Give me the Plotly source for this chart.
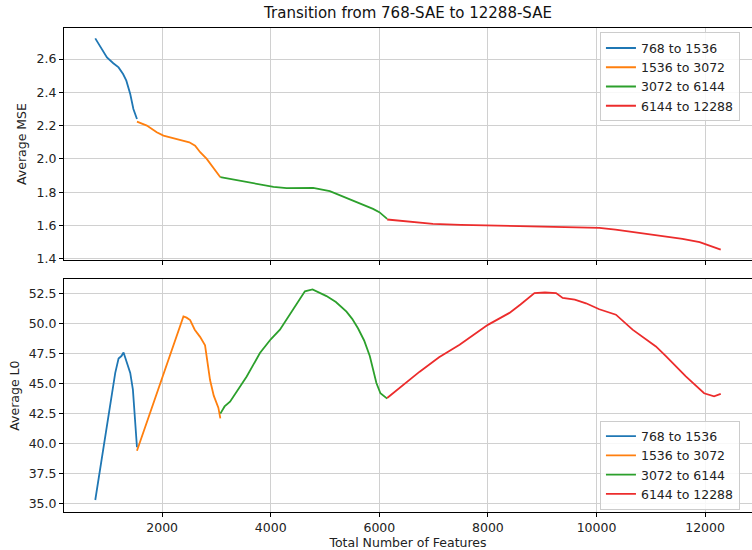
import plotly.graph_objects as go

# ---- data ----
labels = ["768 to 1536", "1536 to 3072", "3072 to 6144", "6144 to 12288"]
colors = ["#1f77b4", "#ff7f0e", "#2ca02c", "#ec2c2c"]

mse_x_blue = [768, 850, 983, 1100, 1197, 1280, 1340, 1412, 1470, 1536]
mse_y_blue = [2.724, 2.68, 2.61, 2.575, 2.55, 2.51, 2.47, 2.39, 2.30, 2.24]
mse_x_orange = [1536, 1718, 1900, 2024, 2200, 2392, 2500, 2607, 2700, 2821, 2950, 3072]
mse_y_orange = [2.224, 2.20, 2.16, 2.14, 2.125, 2.11, 2.10, 2.08, 2.04, 2.00, 1.94, 1.89]
mse_x_green = [3072, 3311, 3550, 3801, 4050, 4292, 4550, 4781, 5088, 5250, 5456, 5650, 5884, 6000, 6144]
mse_y_green = [1.89, 1.876, 1.86, 1.844, 1.832, 1.824, 1.823, 1.826, 1.806, 1.785, 1.76, 1.73, 1.70, 1.68, 1.64]
mse_x_red = [6144, 6375, 6559, 6987, 7500, 7999, 8500, 9009, 9500, 10051, 10350, 10664, 11100, 11583, 11900, 12288]
mse_y_red = [1.636, 1.63, 1.624, 1.61, 1.604, 1.60, 1.596, 1.596, 1.592, 1.586, 1.575, 1.56, 1.54, 1.52, 1.50, 1.455]

l0_x_blue = [768, 891, 1000, 1136, 1197, 1250, 1289, 1333, 1412, 1461, 1536]
l0_y_blue = [35.3, 38.9, 42.0, 45.9, 47.1, 47.3, 47.6, 47.0, 45.9, 44.5, 39.7]
l0_x_orange = [1536, 1779, 1963, 2116, 2250, 2392, 2450, 2515, 2600, 2698, 2790, 2882, 2950, 3035, 3072]
l0_y_orange = [39.4, 42.55, 45.05, 47.0, 48.7, 50.6, 50.5, 50.3, 49.5, 48.9, 48.2, 45.3, 44.0, 43.0, 42.1]
l0_x_green = [3072, 3150, 3250, 3400, 3557, 3801, 4000, 4169, 4300, 4476, 4629, 4770, 4900, 5027, 5200,
              5395, 5500, 5609, 5720, 5824, 5946, 6020, 6144]
l0_y_green = [42.5, 43.1, 43.5, 44.5, 45.6, 47.55, 48.7, 49.5, 50.4, 51.7, 52.7, 52.85, 52.6, 52.3, 51.8,
              51.0, 50.4, 49.6, 48.6, 47.3, 45.05, 44.2, 43.75]
l0_x_red = [6144, 6375, 6559, 6743, 7100, 7478, 7999, 8397, 8600, 8857, 9050, 9255, 9377, 9600, 9807,
            10051, 10358, 10664, 11094, 11278, 11645, 11982, 12165, 12288]
l0_y_red = [43.8, 44.65, 45.3, 46.0, 47.2, 48.25, 49.9, 50.9, 51.6, 52.55, 52.6, 52.55, 52.15, 52.0, 51.7,
            51.2, 50.75, 49.5, 48.1, 47.3, 45.6, 44.2, 43.95, 44.15]

x_ticks = [2000, 4000, 6000, 8000, 10000, 12000]
x_tick_labels = ["2000", "4000", "6000", "8000", "10000", "12000"]
mse_ticks = [1.4, 1.6, 1.8, 2.0, 2.2, 2.4, 2.6]
l0_ticks = [35.0, 37.5, 40.0, 42.5, 45.0, 47.5, 50.0, 52.5]

mse_series = [(mse_x_blue, mse_y_blue), (mse_x_orange, mse_y_orange),
              (mse_x_green, mse_y_green), (mse_x_red, mse_y_red)]
l0_series = [(l0_x_blue, l0_y_blue), (l0_x_orange, l0_y_orange),
             (l0_x_green, l0_y_green), (l0_x_red, l0_y_red)]

FONT = "DejaVu Sans"
fig = go.Figure()
for (xs, ys), lab, c in zip(mse_series, labels, colors):
    fig.add_trace(go.Scatter(x=xs, y=ys, mode="lines", name=lab, line=dict(color=c, width=1.8),
                             xaxis="x", yaxis="y", legend="legend"))
for (xs, ys), lab, c in zip(l0_series, labels, colors):
    fig.add_trace(go.Scatter(x=xs, y=ys, mode="lines", name=lab, line=dict(color=c, width=1.8),
                             xaxis="x2", yaxis="y2", legend="legend2"))

axis_common = dict(showline=True, linecolor="black", linewidth=1, mirror=True,
                   ticks="outside", ticklen=4, tickcolor="black",
                   showgrid=True, gridcolor="#d0d0d0", gridwidth=1, zeroline=False,
                   tickfont=dict(family=FONT, size=12.5, color="#222"))

fig.update_layout(
    width=752, height=550,
    margin=dict(l=64, r=0, t=28, b=38),
    plot_bgcolor="white", paper_bgcolor="white",
    font=dict(family=FONT, size=12.5, color="#222"),
    showlegend=True,
    title=dict(text="Transition from 768-SAE to 12288-SAE", x=0.5, xref="paper",
               y=1 - 13 / 550, yref="container", yanchor="middle", xanchor="center",
               font=dict(family=FONT, size=15, color="#111")),
    xaxis=dict(domain=[0, 1], anchor="y", range=[192, 12864], tickvals=x_ticks,
               showticklabels=False, matches="x2", **axis_common),
    yaxis=dict(domain=[0.5206, 1], anchor="x", range=[1.3925, 2.7865], tickvals=mse_ticks,
               tickformat=".1f",
               title=dict(text="Average MSE", standoff=7, font=dict(family=FONT, size=12.5)),
               **axis_common),
    xaxis2=dict(domain=[0, 1], anchor="y2", range=[192, 12864], tickvals=x_ticks,
                ticktext=x_tick_labels,
                title=dict(text="Total Number of Features", standoff=2, font=dict(family=FONT, size=12.5)),
                **axis_common),
    yaxis2=dict(domain=[0, 0.4808], anchor="x2", range=[34.3, 53.7], tickvals=l0_ticks,
                tickformat=".1f",
                title=dict(text="Average L0", standoff=6, font=dict(family=FONT, size=12.5)),
                **axis_common),
    legend=dict(x=0.779, y=0.991, xanchor="left", yanchor="top",
                bgcolor="rgba(255,255,255,0.85)", bordercolor="#cccccc", borderwidth=1,
                font=dict(family=FONT, size=12.5, color="#222"), tracegroupgap=0,
                itemwidth=30),
    legend2=dict(x=0.779, y=0.189, xanchor="left", yanchor="top",
                 bgcolor="rgba(255,255,255,0.85)", bordercolor="#cccccc", borderwidth=1,
                 font=dict(family=FONT, size=12.5, color="#222"), tracegroupgap=0,
                 itemwidth=30),
)

fig.write_html("out.html")
